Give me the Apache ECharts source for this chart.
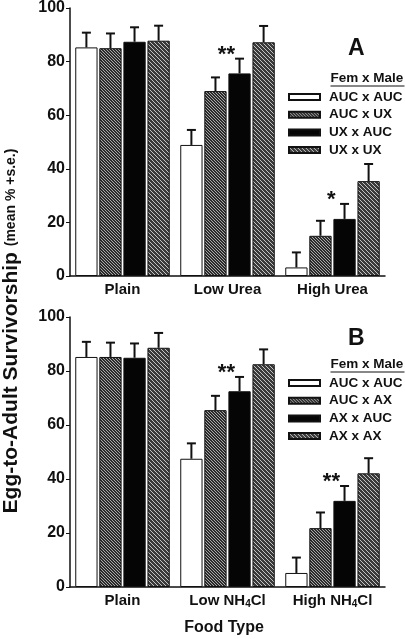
<!DOCTYPE html>
<html>
<head>
<meta charset="utf-8">
<script src="https://cdn.jsdelivr.net/npm/echarts@6/dist/echarts.min.js"></script>
<style>
  html, body { margin: 0; padding: 0; background: #fff; }
  #main { width: 405px; height: 639px; }
</style>
</head>
<body>
<div id="main"></div>
<script>
// 数据
var catsA = ['Plain', 'Low Urea', 'High Urea'];
var catsB = ['Plain', 'Low NH{sub|4}Cl', 'High NH{sub|4}Cl'];
var namesA = ['AUC x AUC', 'AUC x UX', 'UX x AUC', 'UX x UX'];
var namesB = ['AUC x AUC', 'AUC x AX', 'AX x AUC', 'AX x AX'];

var valA = [
    [85.3, 48.9, 3.2],
    [85.0, 69.0, 15.0],
    [87.4, 75.6, 21.3],
    [87.8, 87.2, 35.4]
];
var errA = [
    [5.5, 5.6, 5.6],
    [5.5, 5.1, 5.6],
    [5.4, 5.5, 5.6],
    [5.6, 6.1, 6.4]
];
var valB = [
    [85.2, 47.5, 5.2],
    [85.2, 65.5, 21.8],
    [84.9, 72.5, 31.9],
    [88.6, 82.5, 42.1]
];
var errB = [
    [5.6, 5.7, 5.7],
    [5.3, 5.3, 5.8],
    [5.3, 5.3, 5.5],
    [5.5, 5.5, 5.6]
];
// 显著性标记 (画在第三根柱子上方)
var sigA = ['', '**', '*'];
var sigB = ['', '**', '**'];

var yTicks = [0, 20, 40, 60, 80, 100];

var FONT = '"Liberation Sans", Arial, sans-serif';
var INK = '#111';
var catGap = 0.10, barGap = 0.08;

// 斜线填充
function hatch(bg, fg, step) {
    var c = document.createElement('canvas');
    c.width = c.height = step;
    var x = c.getContext('2d');
    x.fillStyle = bg;
    x.fillRect(0, 0, step, step);
    x.strokeStyle = fg;
    x.lineWidth = 1;
    for (var k = -1; k <= 1; k++) {
        x.beginPath();
        x.moveTo(k * step, 0);
        x.lineTo(k * step + step, step);
        x.stroke();
    }
    return { image: c, repeat: 'repeat' };
}

var fills = ['#ffffff', hatch('#2b2b2b', '#a8a8a8', 3), '#050505', hatch('#3a3a3a', '#c4c4c4', 4)];

function errItem(idx, sig) {
    return function (params, api) {
        var c = api.value(0), v = api.value(1), e = api.value(2);
        var band = api.size([1, 0])[0];
        var usable = band * (1 - catGap);
        var bw = usable / (4 + 3 * barGap);
        var x = api.coord([c, 0])[0] - usable / 2 + idx * bw * (1 + barGap) + bw / 2;
        var y0 = api.coord([c, v])[1];
        var y1 = api.coord([c, v + e])[1];
        var st = { stroke: INK, lineWidth: 2 };
        var kids = [
            { type: 'line', shape: { x1: x, y1: y0, x2: x, y2: y1 }, style: st },
            { type: 'line', shape: { x1: x - 4.5, y1: y1, x2: x + 4.5, y2: y1 }, style: st }
        ];
        if (sig && sig[c]) {
            kids.push({
                type: 'text',
                style: {
                    text: sig[c], x: x - bw / 2 - 2, y: y1 + 7,
                    align: 'center', verticalAlign: 'bottom',
                    font: 'bold 22px ' + FONT, fill: INK
                }
            });
        }
        return { type: 'group', children: kids };
    };
}

function buildSeries(names, vals, errs, sig, gi) {
    var out = [];
    for (var i = 0; i < names.length; i++) {
        out.push({
            name: names[i], type: 'bar',
            xAxisIndex: gi, yAxisIndex: gi,
            barCategoryGap: (catGap * 100) + '%', barGap: (barGap * 100) + '%',
            itemStyle: { color: fills[i], borderColor: INK, borderWidth: 1 },
            data: vals[i], silent: true
        });
    }
    for (var j = 0; j < names.length; j++) {
        var d = [];
        for (var k = 0; k < vals[j].length; k++) d.push([k, vals[j][k], errs[j][k]]);
        out.push({
            type: 'custom', xAxisIndex: gi, yAxisIndex: gi, z: 3, silent: true,
            renderItem: errItem(j, j == 2 ? sig : null),
            encode: { x: 0, y: 1 },
            data: d
        });
    }
    return out;
}

function xAx(cats, gi) {
    return {
        type: 'category', gridIndex: gi, data: cats,
        axisLine: { lineStyle: { color: INK, width: 1.5 } },
        axisTick: { show: false },
        axisLabel: {
            interval: 0, margin: 5, color: INK, fontSize: 15, fontWeight: 'bold', fontFamily: FONT,
            lineHeight: 17,
            rich: { sub: { fontSize: 10, fontWeight: 'bold', fontFamily: FONT, color: INK, verticalAlign: 'bottom', lineHeight: 10 } }
        }
    };
}

function yAx(gi) {
    return {
        type: 'value', gridIndex: gi, min: yTicks[0], max: yTicks[yTicks.length - 1], interval: 20,
        splitLine: { show: false },
        axisLine: { show: true, lineStyle: { color: INK, width: 1.5 } },
        axisTick: { show: true, length: 4, lineStyle: { color: INK } },
        axisLabel: { margin: 5, color: INK, fontSize: 16, fontWeight: 'bold', fontFamily: FONT }
    };
}

function legendFor(names, top) {
    return {
        data: names, orient: 'vertical', left: 288, top: top, padding: 0,
        icon: 'rect', itemWidth: 31, itemHeight: 6, itemGap: 3.7,
        textStyle: { color: INK, fontSize: 13.5, fontWeight: 'bold', fontFamily: FONT, padding: [0, 0, 0, 4] },
        selectedMode: false
    };
}

function header(top) {
    return {
        type: 'group', left: 328, top: top,
        children: [
            { type: 'text', style: { text: 'Fem x Male', font: 'bold 13.5px ' + FONT, fill: INK } },
            { type: 'line', shape: { x1: 0, y1: 15, x2: 74, y2: 15 }, style: { stroke: INK, lineWidth: 1.2 } }
        ]
    };
}

var chart = echarts.init(document.getElementById('main'), null, { renderer: 'canvas' });
var option = {
    animation: false,
    textStyle: { fontFamily: FONT },
    grid: [
        { left: 70, top: 8, width: 315, height: 268 },
        { left: 70, top: 317, width: 315, height: 270 }
    ],
    xAxis: [xAx(catsA, 0), xAx(catsB, 1)],
    yAxis: [yAx(0), yAx(1)],
    legend: [legendFor(namesA, 90), legendFor(namesB, 376)],
    series: buildSeries(namesA, valA, errA, sigA, 0).concat(buildSeries(namesB, valB, errB, sigB, 1)),
    graphic: [
        header(71),
        header(357),
        { type: 'text', left: 348, top: 37, style: { text: 'A', font: 'bold 23px ' + FONT, fill: INK } },
        { type: 'text', left: 348, top: 327, style: { text: 'B', font: 'bold 23px ' + FONT, fill: INK } },
        {
            type: 'text', x: 11, y: 331, rotation: Math.PI / 2,
            style: {
                text: '{a|Egg-to-Adult Survivorship }{b|(mean % +s.e.)}',
                align: 'center', verticalAlign: 'middle',
                rich: {
                    a: { font: 'bold 21px ' + FONT, fill: INK },
                    b: { font: 'bold 14px ' + FONT, fill: INK }
                }
            }
        },
        { type: 'text', x: 224, y: 628, style: { text: 'Food Type', font: 'bold 16px ' + FONT, fill: INK, align: 'center', verticalAlign: 'middle' } }
    ]
};
chart.setOption(option);
</script>
</body>
</html>
